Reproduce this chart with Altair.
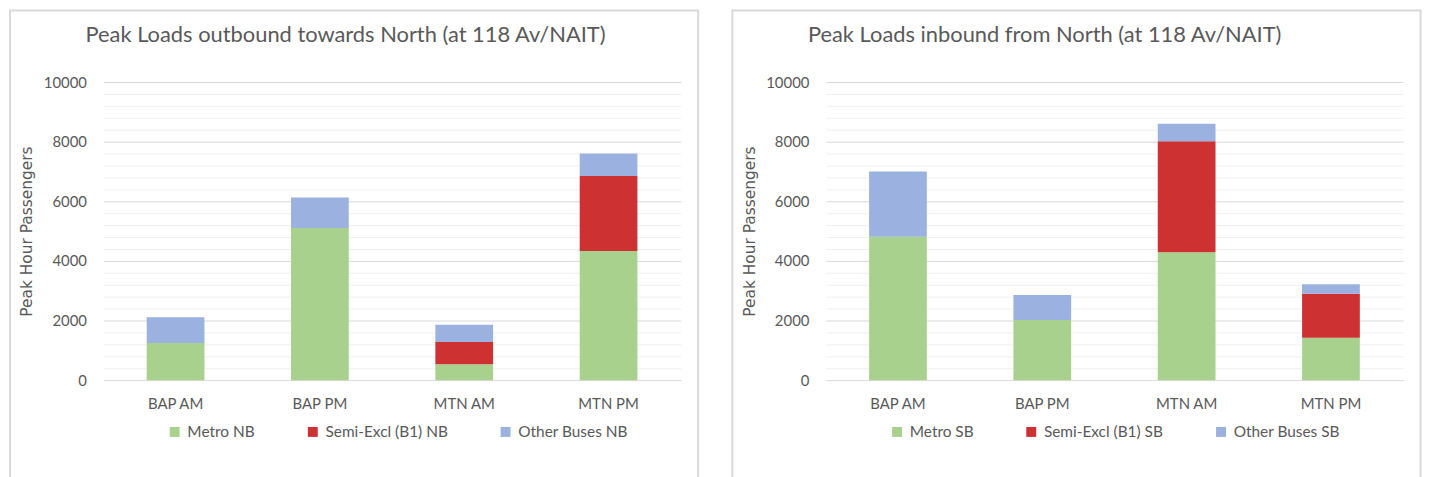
import altair as alt
import pandas as pd

categories = ["BAP AM", "BAP PM", "MTN AM", "MTN PM"]

nb_title = "Peak Loads outbound towards North (at 118 Av/NAIT)"
nb_series = ["Metro NB", "Semi-Excl (B1) NB", "Other Buses NB"]
nb_metro = [1250, 5100, 530, 4330]
nb_semi = [0, 0, 750, 2520]
nb_other = [860, 1030, 580, 750]

sb_title = "Peak Loads inbound from North (at 118 Av/NAIT)"
sb_series = ["Metro SB", "Semi-Excl (B1) SB", "Other Buses SB"]
sb_metro = [4810, 2015, 4290, 1425]
sb_semi = [0, 0, 3720, 1470]
sb_other = [2190, 845, 590, 325]

y_axis_title = "Peak Hour Passengers"
series_colors = ["#A9D18E", "#CD3131", "#9BB1DF"]
tick_values = list(range(0, 10001, 400))

GRAY_TEXT = "#595959"
BORDER = "#D9D9D9"
W, H = 581, 300


def panel(title, series, metro, semi, other):
    rows = []
    for i, c in enumerate(categories):
        for k, (s, v) in enumerate(zip(series, [metro[i], semi[i], other[i]])):
            rows.append({"cat": c, "series": s, "value": v, "order": k})
    df = pd.DataFrame(rows)

    bars = alt.Chart(df).mark_bar().encode(
        x=alt.X(
            "cat:N",
            sort=categories,
            scale=alt.Scale(paddingInner=0.6, paddingOuter=0.3),
            axis=alt.Axis(
                title=None, labelAngle=0, domain=False, ticks=False,
                labelPadding=24, labelBaseline="middle",
                labelFont="Lato", labelFontSize=15, labelColor=GRAY_TEXT,
            ),
        ),
        y=alt.Y(
            "value:Q",
            stack="zero",
            scale=alt.Scale(domain=[0, 10000], nice=False),
            axis=alt.Axis(
                values=tick_values, format="d",
                labelExpr="datum.value % 2000 === 0 ? datum.label : ''",
                domain=False, ticks=False, labelPadding=17,
                labelFont="Lato", labelFontSize=15, labelColor=GRAY_TEXT,
                gridColor={"condition": {"test": "datum.value % 2000 === 0", "value": "#D9D9D9"}, "value": "#F0F0F0"},
                gridWidth=1,
                title=y_axis_title, titleFont="DejaVu Sans", titleFontSize=15.5,
                titleFontWeight="normal", titleColor=GRAY_TEXT,
                titleAngle=270, titleX=-77, titleY=H / 2,
                titleAlign="center", titleBaseline="middle",
            ),
        ),
        color=alt.Color(
            "series:N",
            scale=alt.Scale(domain=series, range=series_colors),
            legend=alt.Legend(
                title=None, orient="none", legendX=64, legendY=344, padding=0,
                direction="horizontal", columns=3, columnPadding=50,
                symbolType="square", symbolSize=100, symbolStrokeWidth=0,
                symbolOpacity=1, labelOffset=5,
                labelFont="Lato", labelFontSize=15.5, labelColor=GRAY_TEXT,
            ),
        ),
        order=alt.Order("order:Q"),
    )

    one = pd.DataFrame({"t": [title]})
    rule_style = dict(color=BORDER, strokeWidth=2)
    left_rule = alt.Chart(one).mark_rule(**rule_style).encode(
        x=alt.value(-94), y=alt.value(-72), y2=alt.value(400))
    top_rule = alt.Chart(one).mark_rule(**rule_style).encode(
        x=alt.value(-95), x2=alt.value(599.5), y=alt.value(-72))
    right_rule = alt.Chart(one).mark_rule(**rule_style).encode(
        x=alt.value(598.5), y=alt.value(-72), y2=alt.value(400))
    title_text = alt.Chart(one).mark_text(
        align="left", baseline="alphabetic", font="Lato", fontSize=22,
        color=GRAY_TEXT,
    ).encode(x=alt.value(-18), y=alt.value(-40), text="t:N")

    return alt.layer(left_rule, top_rule, right_rule, bars, title_text).properties(width=W, height=H)


left = panel(nb_title, nb_series, nb_metro, nb_semi, nb_other)
right = panel(sb_title, sb_series, sb_metro, sb_semi, sb_other)

chart = (
    alt.hconcat(left, right, spacing=30)
    .resolve_scale(color="independent")
    .properties(padding=0, background="white")
    .configure_view(stroke=None)
)

chart.save("out.html", embed_options={"renderer": "svg", "actions": False})
